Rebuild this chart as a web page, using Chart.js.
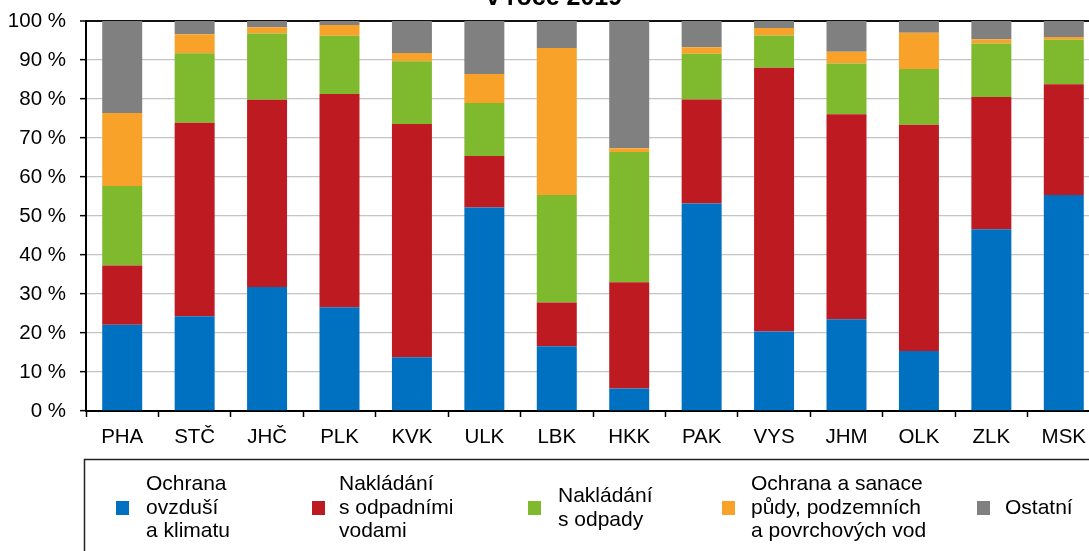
<!DOCTYPE html>
<html>
<head>
<meta charset="utf-8">
<script src="https://cdn.jsdelivr.net/npm/chart.js@4/dist/chart.umd.min.js"></script>
<style>
  html, body { margin: 0; padding: 0; background: #fff; overflow: hidden; }
  #wrap { position: absolute; left: 0; top: 0; width: 1110px; height: 551px; }
</style>
</head>
<body>
<div id="wrap"><canvas id="chart" width="1110" height="551"></canvas></div>
<script>
// Categories (regions) and shares of each investment type, in %
const categories = ['PHA', 'STČ', 'JHČ', 'PLK', 'KVK', 'ULK', 'LBK', 'HKK', 'PAK', 'VYS', 'JHM', 'OLK', 'ZLK', 'MSK'];
const ovzdusi     = [22.1, 24.3, 31.8, 26.6, 13.8, 52.2, 16.6,  5.8, 53.2, 20.4, 23.5, 15.4, 46.6, 55.4];
const odpadniVody = [15.2, 49.6, 48.0, 54.7, 59.8, 13.2, 11.2, 27.2, 26.7, 67.6, 52.6, 58.0, 33.9, 28.4];
const odpady      = [20.4, 17.8, 17.0, 14.9, 16.1, 13.6, 27.6, 33.4, 11.7,  8.3, 13.0, 14.3, 13.7, 11.4];
const puda        = [18.7,  4.9,  1.6,  2.8,  2.1,  7.4, 37.7,  1.0,  1.7,  1.9,  3.0,  9.3,  1.1,  0.7];
const ostatni     = [23.6,  3.4,  1.6,  1.0,  8.2, 13.6,  6.9, 32.6,  6.7,  1.8,  7.9,  3.0,  4.7,  4.1];

const seriesNames = [
    ['Ochrana', 'ovzduší', 'a klimatu'],
    ['Nakládání', 's odpadními', 'vodami'],
    ['Nakládání', 's odpady'],
    ['Ochrana a sanace', 'půdy, podzemních', 'a povrchových vod'],
    ['Ostatní']
];
const seriesColors = ['#0070C0', '#BE1A22', '#7FBA2E', '#F8A229', '#808080'];
const yTicks = [0, 10, 20, 30, 40, 50, 60, 70, 80, 90, 100];
const titleText = 'v roce 2019';

const FONT = '"Liberation Sans", Arial, sans-serif';

// Title (cut off at the top) and the boxed legend below the chart
const extrasPlugin = {
    id: 'extras',
    afterDraw(chart) {
        const ctx = chart.ctx;
        ctx.save();

        // title
        ctx.fillStyle = '#000';
        ctx.font = 'bold 25px ' + FONT;
        ctx.textAlign = 'center';
        ctx.textBaseline = 'alphabetic';
        ctx.fillText(titleText, 554, 5);

        // legend frame
        ctx.strokeStyle = '#222';
        ctx.lineWidth = 1.5;
        ctx.strokeRect(84.5, 459.5, 1100, 200);

        // legend items
        const boxX = [116, 312, 528, 722, 977];
        const textX = [146, 339, 558, 751, 1005];
        const midY = 508;
        const lineH = 23.5;
        ctx.font = '21px ' + FONT;
        ctx.textAlign = 'left';
        ctx.textBaseline = 'middle';
        chart.data.datasets.forEach((ds, i) => {
            ctx.fillStyle = ds.backgroundColor;
            ctx.fillRect(boxX[i], midY - 7, 13, 14);
            const lines = seriesNames[i];
            const startY = midY - (lines.length - 1) * lineH / 2;
            ctx.fillStyle = '#000';
            lines.forEach((t, k) => ctx.fillText(t, textX[i], startY + k * lineH));
        });
        ctx.restore();
    }
};

const seriesData = [ovzdusi, odpadniVody, odpady, puda, ostatni];

new Chart(document.getElementById('chart'), {
    type: 'bar',
    data: {
        labels: categories,
        datasets: seriesData.map((values, i) => ({
            label: seriesNames[i].join(' '),
            data: values,
            backgroundColor: seriesColors[i],
            borderWidth: 0,
            categoryPercentage: 1.0,
            barPercentage: 0.552
        }))
    },
    options: {
        responsive: false,
        animation: false,
        layout: { padding: { left: 0, top: 21, right: 10, bottom: 0 } },
        plugins: {
            legend: { display: false },
            title: { display: false },
            tooltip: { enabled: false }
        },
        scales: {
            x: {
                stacked: true,
                border: { color: '#000', width: 2 },
                grid: {
                    display: true,
                    drawOnChartArea: false,
                    offset: true,
                    tickLength: 6,
                    tickColor: '#000',
                    tickWidth: 1.5
                },
                ticks: {
                    color: '#000',
                    font: { family: FONT, size: 20.5 },
                    padding: 8,
                    maxRotation: 0,
                    autoSkip: false
                },
                afterFit(scale) { scale.height = 140; }
            },
            y: {
                stacked: true,
                min: 0,
                max: 100,
                border: { color: '#000', width: 2 },
                grid: {
                    color: ctx => (ctx.tick && ctx.tick.value === 100 ? '#111' : '#c4c4c4'),
                    lineWidth: ctx => (ctx.tick && ctx.tick.value === 100 ? 2 : 1.3),
                    tickLength: 6,
                    tickColor: '#000',
                    tickWidth: 1.5
                },
                afterBuildTicks(scale) {
                    scale.ticks = yTicks.map(v => ({ value: v }));
                },
                ticks: {
                    color: '#000',
                    font: { family: FONT, size: 20.5 },
                    padding: 14,
                    callback: v => v + ' %'
                },
                afterFit(scale) {
                    scale.width = 86;
                    scale.paddingTop = 12;
                    scale.paddingBottom = 12;
                }
            }
        }
    },
    plugins: [extrasPlugin]
});
</script>
</body>
</html>
